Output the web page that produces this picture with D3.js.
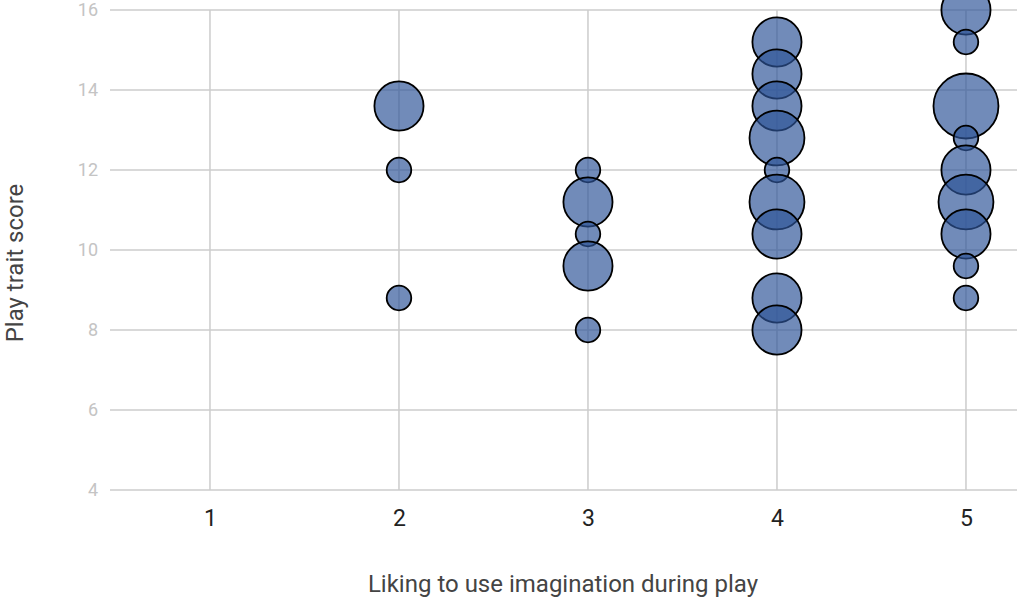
<!DOCTYPE html>
<html><head><meta charset="utf-8">
<script src="https://cdn.jsdelivr.net/npm/d3@7"></script>
<style>
html,body{margin:0;padding:0;background:#fff;overflow:hidden;}
text{font-family:Roboto,"Noto Sans",sans-serif;}
</style></head>
<body><svg id="chart" width="1017" height="599"></svg>
<script>
const xTicks = [1, 2, 3, 4, 5];
const yTicks = [4, 6, 8, 10, 12, 14, 16];
const pointX = [2, 2, 2, 3, 3, 3, 3, 3, 4, 4, 4, 4, 4, 4, 4, 4, 4, 5, 5, 5, 5, 5, 5, 5, 5, 5];
const pointY = [13.6, 12, 8.8, 12, 11.2, 10.4, 9.6, 8, 15.2, 14.4, 13.6, 12.8, 12, 11.2, 10.4, 8.8, 8, 16, 15.2, 13.6, 12.8, 12, 11.2, 10.4, 9.6, 8.8];
const pointN = [4, 1, 1, 1, 4, 1, 4, 1, 4, 4, 4, 5, 1, 5, 4, 4, 4, 4, 1, 7, 1, 4, 5, 4, 1, 1];
const xTitle = "Liking to use imagination during play";
const yTitle = "Play trait score";

const svg = d3.select("#chart");
const x = d3.scaleLinear().domain([0.471, 5.27]).range([110, 1017]);
const y = d3.scaleLinear().domain([4, 16]).range([490, 10]);
const r = d3.scaleSqrt().domain([0, 7]).range([0, 32.5]);

const grid = svg.append("g");
grid.selectAll("line.h").data(yTicks).join("line")
  .attr("x1", 110).attr("x2", 1017)
  .attr("y1", d => y(d)).attr("y2", d => y(d))
  .attr("stroke", "#cccccc").attr("stroke-width", 1.5);
grid.selectAll("line.v").data(xTicks).join("line")
  .attr("x1", d => x(d)).attr("x2", d => x(d))
  .attr("y1", y(16)).attr("y2", y(4))
  .attr("stroke", "#cccccc").attr("stroke-width", 1.5);

// y axis labels
const yAxis = svg.append("g").attr("transform", "translate(110,0)")
  .call(d3.axisLeft(y).tickValues(yTicks).tickSize(0).tickPadding(12).tickFormat(d3.format("d")));
yAxis.select(".domain").remove();
yAxis.attr("font-size", null).attr("font-family", null);
yAxis.selectAll("text").attr("fill", "#c4c4c4").style("font-size", "18px");

// x axis labels
const xAxis = svg.append("g").attr("transform", "translate(0,490)")
  .call(d3.axisBottom(x).tickValues(xTicks).tickSize(0).tickPadding(20).tickFormat(d3.format("d")));
xAxis.select(".domain").remove();
xAxis.attr("font-size", null).attr("font-family", null);
xAxis.selectAll("text").attr("fill", "#222").style("font-size", "23px");

const pts = pointX.map((d, i) => ({x: d, y: pointY[i], n: pointN[i]}));
svg.append("g").selectAll("circle").data(pts).join("circle")
  .attr("cx", d => x(d.x)).attr("cy", d => y(d.y)).attr("r", d => r(d.n))
  .attr("fill", "#2d5498").attr("fill-opacity", 0.68)
  .attr("stroke", "#000").attr("stroke-width", 1.8);

svg.append("text").attr("x", 563).attr("y", 592).attr("text-anchor", "middle")
  .attr("fill", "#444").style("font-size", "24px").text(xTitle);
svg.append("text").attr("transform", "translate(23,263) rotate(-90)").attr("text-anchor", "middle")
  .attr("fill", "#444").style("font-size", "24px").text(yTitle);
</script></body></html>
